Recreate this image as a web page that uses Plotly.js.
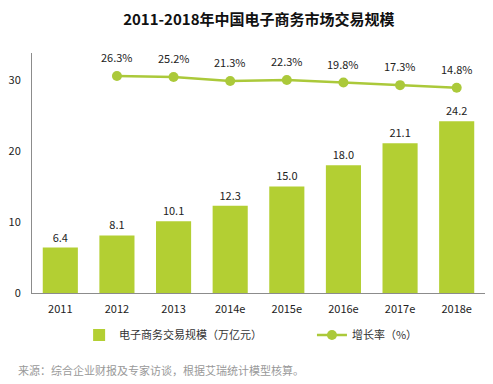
<!DOCTYPE html>
<html><head><meta charset="utf-8">
<script src="https://cdn.plot.ly/plotly-3.0.1.min.js"></script>
<style>html,body{margin:0;padding:0;background:#fff;}#c{width:493px;height:384px;}</style>
</head><body><div id="c"></div>
<script>
const categories = ["2011","2012","2013","2014e","2015e","2016e","2017e","2018e"];
const marketSize = [6.4, 8.1, 10.1, 12.3, 15.0, 18.0, 21.1, 24.2];
const growthCats = ["2012","2013","2014e","2015e","2016e","2017e","2018e"];
const growthRate = [26.3, 25.2, 21.3, 22.3, 19.8, 17.3, 14.8];
const yTicks = [0, 10, 20, 30];

const font = "'Noto Sans CJK SC', 'Noto Sans', sans-serif";
const green = "#b3cf33";

const traces = [
  {
    type: "bar", x: categories, y: marketSize, name: "电子商务交易规模（万亿元）",
    marker: {color: green}, legend: "legend",
    text: marketSize.map(v => v.toFixed(1)), textposition: "outside",
    textfont: {size: 11, color: "#222", family: font},
    cliponaxis: false, hoverinfo: "none"
  },
  {
    type: "scatter", mode: "lines+markers", x: growthCats, y: growthRate, yaxis: "y2",
    name: "增长率（%）", legend: "legend2",
    line: {color: "#abc93a", width: 2.5},
    marker: {color: "#abc93a", size: 10},
    cliponaxis: false, hoverinfo: "none"
  }
];

const lineLabels = growthCats.map((c, i) => ({
  text: growthRate[i].toFixed(1) + "%", x: categories.indexOf(c), y: growthRate[i], xref: "x", yref: "y2",
  yshift: 19, showarrow: false, xanchor: "center", yanchor: "middle",
  font: {size: 11, color: "#222", family: font}
}));

const legendStyle = {orientation: "h", xanchor: "left", y: -0.175, yanchor: "middle",
                     font: {size: 11, color: "#333", family: font}, itemwidth: 30, bgcolor: "rgba(0,0,0,0)"};

const layout = {
  width: 493, height: 384,
  margin: {l: 32, r: 8, t: 53, b: 91},
  paper_bgcolor: "#fff", plot_bgcolor: "#fff",
  font: {family: font, size: 11, color: "#222"},
  title: {text: "<b>2011-2018年中国电子商务市场交易规模</b>", font: {size: 15, color: "#111", family: font},
          x: 0.525, xanchor: "center", y: 0.948, yanchor: "middle"},
  bargap: 0.38,
  showlegend: true,
  legend: Object.assign({}, legendStyle, {x: 0.104}),
  legend2: Object.assign({}, legendStyle, {x: 0.618}),
  xaxis: {type: "category", range: [-0.5, categories.length - 0.5], autorange: false,
          showline: true, linecolor: "#8c8c8c", linewidth: 1, ticks: "",
          showgrid: false, ticklabelstandoff: 6, tickfont: {size: 11, color: "#222"}},
  yaxis: {range: [0, 33.8], tickvals: yTicks, showline: true, linecolor: "#8c8c8c", linewidth: 1,
          showgrid: false, zeroline: false, ticks: "", ticklabelstandoff: 8, tickfont: {size: 11, color: "#222"}},
  yaxis2: {overlaying: "y", side: "right", range: [-186.5, 48.8], visible: false, showgrid: false, zeroline: false},
  annotations: lineLabels.concat([
    {text: "来源：综合企业财报及专家访谈，根据艾瑞统计模型核算。", xref: "paper", yref: "paper",
     x: -0.035, y: -0.32, xanchor: "left", yanchor: "middle", showarrow: false,
     font: {size: 11, color: "#999", family: font}}
  ])
};

Plotly.newPlot("c", traces, layout, {staticPlot: true, displayModeBar: false});
</script></body></html>
